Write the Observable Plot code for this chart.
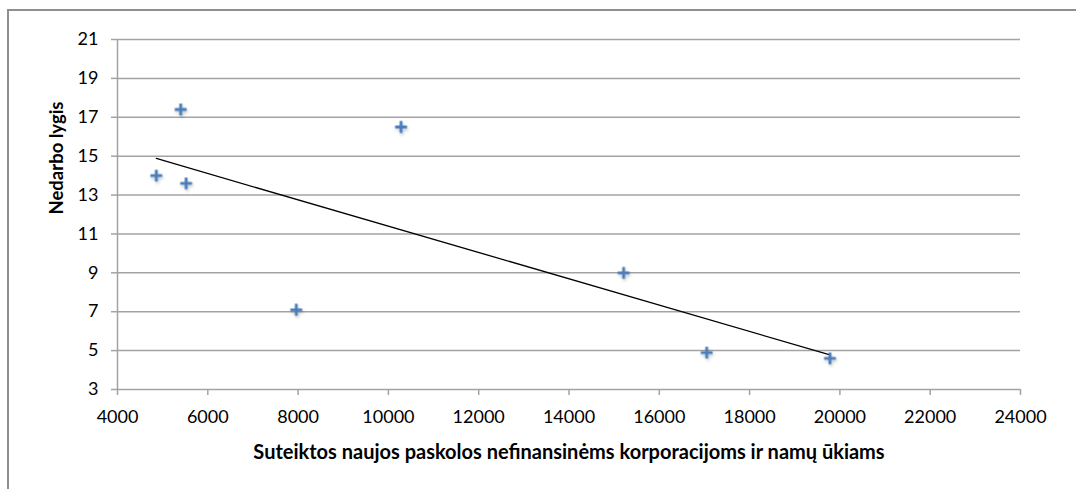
<!DOCTYPE html>
<html>
<head>
<meta charset="utf-8">
<script src="https://cdn.jsdelivr.net/npm/d3@7"></script>
<script src="https://cdn.jsdelivr.net/npm/@observablehq/plot@0.6"></script>
<style>
  html, body { margin: 0; padding: 0; background: #fff; overflow: hidden; }
  #wrap { position: relative; width: 1076px; height: 489px; overflow: hidden; }
  #frame {
    position: absolute; left: 7px; top: 9px; width: 1200px; height: 700px;
    border: 2px solid #8e8e8e; box-sizing: border-box;
  }
  #chart { position: absolute; left: 0; top: 0; }
  #chart svg .pts { filter: drop-shadow(1px 2px 1.5px rgba(0,0,0,0.22)); }
</style>
</head>
<body>
<div id="wrap">
  <div id="frame"></div>
  <div id="chart"></div>
</div>
<script>
// New loans to non-financial corporations and households vs. unemployment rate
const loans = [4860, 5400, 5520, 7960, 10280, 15210, 17050, 19780];
const unemployment = [14.0, 17.4, 13.6, 7.1, 16.5, 9.0, 4.9, 4.6];

const xTicks = [4000, 6000, 8000, 10000, 12000, 14000, 16000, 18000, 20000, 22000, 24000];
const yTicks = [3, 5, 7, 9, 11, 13, 15, 17, 19, 21];

const xTitle = "Suteiktos naujos paskolos nefinansinėms korporacijoms ir namų ūkiams";
const yTitle = "Nedarbo lygis";

const points = loans.map((x, i) => ({x, y: unemployment[i]}));

const axisColor = "#a3a3a3";
const font = "Lato, 'Open Sans', sans-serif";

const chart = Plot.plot({
  width: 1076,
  height: 489,
  marginLeft: 117,
  marginRight: 56,
  marginTop: 39,
  marginBottom: 100,
  x: {domain: [4000, 24000]},
  y: {domain: [3, 21]},
  style: {fontFamily: font, fontSize: "18px", color: "#000", background: "transparent", overflow: "visible"},
  marks: [
    Plot.gridY(yTicks, {stroke: axisColor, strokeOpacity: 1, strokeWidth: 1.5}),
    Plot.ruleX([4000], {stroke: axisColor, strokeWidth: 1.5}),
    Plot.axisY(yTicks, {
      tickSize: 6, tickPadding: 13, stroke: axisColor, strokeWidth: 1.5,
      label: null, fill: "#000", fontSize: 18
    }),
    Plot.axisX(xTicks, {
      tickSize: 6, tickPadding: 15, stroke: axisColor, strokeWidth: 1.5,
      label: null, fill: "#000", fontSize: 18, tickFormat: d => String(d)
    }),
    Plot.linearRegressionY(points, {x: "x", y: "y", stroke: "#000", strokeWidth: 1.3, ci: 0}),
    Plot.dot(points, {
      x: "x", y: "y", symbol: "plus", r: 3.9,
      stroke: "#4a7ebb", strokeWidth: 2.8, className: "pts"
    }),
    Plot.text([xTitle], {
      text: d => d, frameAnchor: "bottom", lineAnchor: "middle", dy: 63,
      fontWeight: "bold", fontSize: 20, fill: "#000"
    }),
    Plot.text([yTitle], {
      text: d => d, frameAnchor: "left", lineAnchor: "middle", rotate: -90, dx: -60,
      fontWeight: "bold", fontSize: 18.5, fill: "#000"
    })
  ]
});

document.getElementById("chart").appendChild(chart);
</script>
</body>
</html>
